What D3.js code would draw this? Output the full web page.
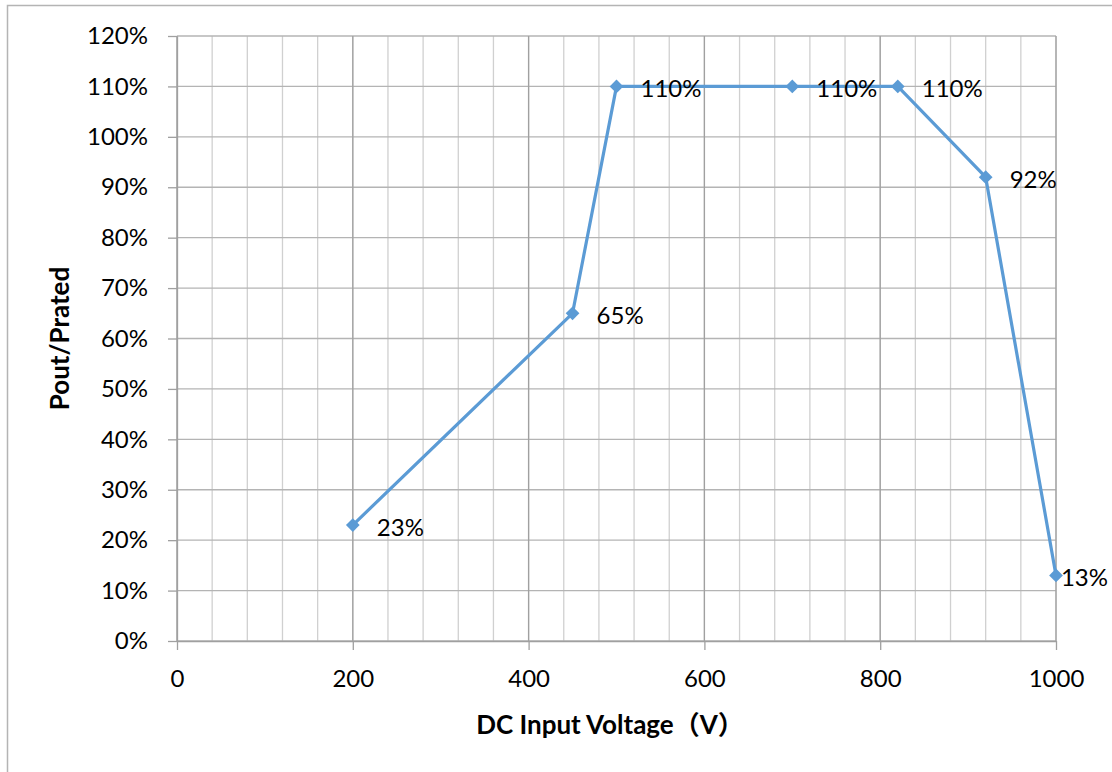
<!DOCTYPE html>
<html lang="en">
	<head>
		<meta charset="utf-8">
		<title>Pout/Prated vs DC Input Voltage</title>
		<script type="text/javascript" src="https://cdn.jsdelivr.net/npm/d3@7"></script>
		<style type="text/css">
			body { margin: 0; background: #fff; }
			text { font-family: Lato, "Noto Sans CJK SC", sans-serif; fill: #000; }
		</style>
	</head>
	<body>
		<script type="text/javascript">

			//Data
			var voltages = [200, 450, 500, 700, 820, 920, 1000];
			var ratios = [0.23, 0.65, 1.10, 1.10, 1.10, 0.92, 0.13];
			var xTicks = [0, 200, 400, 600, 800, 1000];
			var yTicks = [0, 0.1, 0.2, 0.3, 0.4, 0.5, 0.6, 0.7, 0.8, 0.9, 1.0, 1.1, 1.2];
			var xMinorTicks = d3.range(0, 1001, 40);

			//Width and height
			var w = 1112;
			var h = 772;
			var plotLeft = 177, plotRight = 1056, plotTop = 36, plotBottom = 641;

			var xScale = d3.scaleLinear().domain([0, 1000]).range([plotLeft, plotRight]);
			var yScale = d3.scaleLinear().domain([0, 1.2]).range([plotBottom, plotTop]);

			var svg = d3.select("body")
						.append("svg")
						.attr("width", w)
						.attr("height", h);

			//Outer chart frame (right and bottom edges fall outside the picture)
			svg.append("rect")
				.attr("x", 7.5)
				.attr("y", 5.5)
				.attr("width", 1300)
				.attr("height", 1000)
				.attr("fill", "none")
				.attr("stroke", "#b4b4b4")
				.attr("stroke-width", 1.5);

			//Minor vertical gridlines
			svg.append("g")
				.selectAll("line")
				.data(xMinorTicks)
				.enter()
				.append("line")
				.attr("x1", function(d) { return xScale(d); })
				.attr("x2", function(d) { return xScale(d); })
				.attr("y1", plotTop)
				.attr("y2", plotBottom)
				.attr("stroke", "#d0d0d0")
				.attr("stroke-width", 1.3);

			//Horizontal gridlines
			svg.append("g")
				.selectAll("line")
				.data(yTicks)
				.enter()
				.append("line")
				.attr("x1", plotLeft)
				.attr("x2", plotRight)
				.attr("y1", function(d) { return yScale(d); })
				.attr("y2", function(d) { return yScale(d); })
				.attr("stroke", "#b4b4b4")
				.attr("stroke-width", 1.3);

			//Major vertical gridlines
			svg.append("g")
				.selectAll("line")
				.data(xTicks)
				.enter()
				.append("line")
				.attr("x1", function(d) { return xScale(d); })
				.attr("x2", function(d) { return xScale(d); })
				.attr("y1", plotTop)
				.attr("y2", plotBottom)
				.attr("stroke", "#a0a0a0")
				.attr("stroke-width", 1.3);

			//Axes
			var xAxis = d3.axisBottom(xScale)
							.tickValues(xTicks)
							.tickFormat(d3.format("d"))
							.tickSize(9)
							.tickPadding(20)
							.tickSizeOuter(0);

			var yAxis = d3.axisLeft(yScale)
							.tickValues(yTicks)
							.tickFormat(d3.format(".0%"))
							.tickSize(9)
							.tickPadding(20)
							.tickSizeOuter(0);

			svg.append("g")
				.attr("class", "x axis")
				.attr("transform", "translate(0," + plotBottom + ")")
				.call(xAxis);

			svg.append("g")
				.attr("class", "y axis")
				.attr("transform", "translate(" + plotLeft + ",0)")
				.call(yAxis);

			svg.selectAll(".axis path, .axis line")
				.attr("stroke", "#a0a0a0")
				.attr("stroke-width", 1.3);

			svg.selectAll(".axis text")
				.attr("font-family", "Lato, sans-serif")
				.attr("font-size", "24px")
				.attr("fill", "#000");

			//Line
			var line = d3.line()
						.x(function(d, i) { return xScale(voltages[i]); })
						.y(function(d) { return yScale(d); });

			svg.append("path")
				.datum(ratios)
				.attr("d", line)
				.attr("fill", "none")
				.attr("stroke", "#5b9bd5")
				.attr("stroke-width", 3.2)
				.attr("stroke-linejoin", "round");

			//Diamond markers
			svg.selectAll(".marker")
				.data(ratios)
				.enter()
				.append("path")
				.attr("class", "marker")
				.attr("d", d3.symbol().type(d3.symbolDiamond2).size(120))
				.attr("transform", function(d, i) {
					return "translate(" + xScale(voltages[i]) + "," + yScale(d) + ")";
				})
				.attr("fill", "#5b9bd5");

			//Data labels
			svg.selectAll(".label")
				.data(ratios)
				.enter()
				.append("text")
				.attr("class", "label")
				.text(function(d) { return d3.format(".0%")(d); })
				.attr("font-size", "24px")
				.attr("dominant-baseline", "central")
				.attr("y", function(d) { return yScale(d) + 1; })
				.attr("x", function(d, i) {
					var x = xScale(voltages[i]) + 24;
					var tw = this.getComputedTextLength();
					return Math.min(x, 1108 - tw);
				});

			//Axis titles
			svg.append("text")
				.attr("x", 610)
				.attr("y", 734)
				.attr("text-anchor", "middle")
				.attr("font-size", "26px")
				.attr("font-weight", "bold")
				.text("DC Input Voltage（V）");

			svg.append("text")
				.attr("transform", "translate(69," + ((plotTop + plotBottom) / 2) + ") rotate(-90)")
				.attr("text-anchor", "middle")
				.attr("font-size", "26px")
				.attr("font-weight", "bold")
				.text("Pout/Prated");

		</script>
	</body>
</html>
